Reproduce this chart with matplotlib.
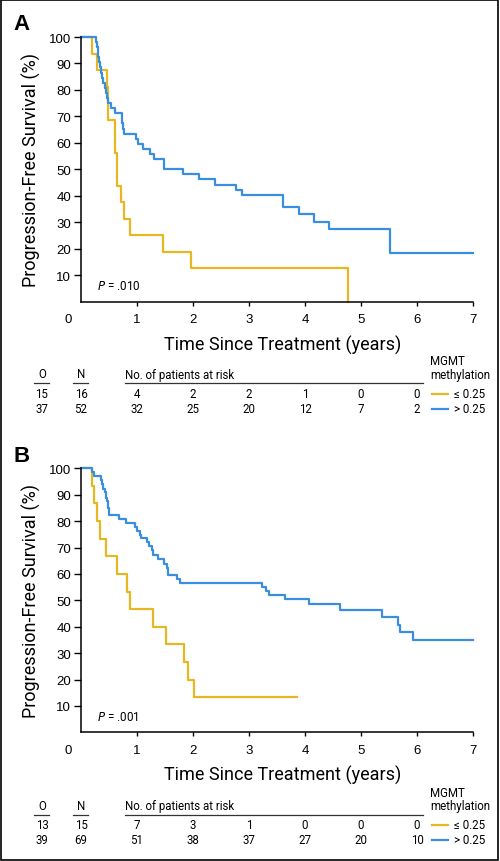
import numpy as np
import matplotlib
matplotlib.use("Agg")
import matplotlib.pyplot as plt
from matplotlib.patches import Rectangle
from matplotlib.lines import Line2D
from matplotlib.transforms import blended_transform_factory

# Panel A data (years, % progression-free)
a_low_t = [0, 0.20, 0.28, 0.46, 0.48, 0.60, 0.64, 0.71, 0.76, 0.87, 1.47, 1.96, 4.77]
a_low_s = [100, 93.75, 87.5, 81.25, 68.75, 56.25, 43.75, 37.5, 31.25, 25.0, 18.75, 12.5, 0]
a_high_t = [0, 0.27, 0.285, 0.30, 0.31, 0.32, 0.34, 0.36, 0.38, 0.40, 0.42, 0.44, 0.46, 0.48,
            0.54, 0.60, 0.73, 0.74, 0.755, 0.77, 0.99, 1.01, 1.10, 1.23, 1.31, 1.48, 1.83,
            2.10, 2.40, 2.76, 2.88, 3.61, 3.89, 4.16, 4.43, 5.52, 7.0]
a_high_s = [100, 98.1, 96.2, 94.2, 92.3, 90.4, 88.5, 86.5, 84.6, 82.7, 80.8, 78.8, 76.9, 75.0,
            73.1, 71.2, 69.2, 67.3, 65.4, 63.5, 61.5, 59.6, 57.7, 55.8, 53.8, 50.0, 48.1,
            46.2, 44.2, 42.3, 40.4, 35.6, 32.9, 30.2, 27.5, 18.3, 18.3]

# Panel B data
b_low_t = [0, 0.19, 0.24, 0.29, 0.34, 0.45, 0.65, 0.82, 0.875, 1.29, 1.51, 1.84, 1.91, 2.02, 3.85]
b_low_s = [100, 93.3, 86.7, 80.0, 73.3, 66.7, 60.0, 53.3, 46.7, 40.0, 33.3, 26.7, 20.0, 13.3, 13.3]
b_high_t = [0, 0.20, 0.24, 0.36, 0.38, 0.40, 0.42, 0.44, 0.46, 0.48, 0.50, 0.68, 0.80, 0.97,
            1.00, 1.05, 1.08, 1.17, 1.22, 1.26, 1.29, 1.38, 1.48, 1.53, 1.56, 1.71, 1.76,
            3.23, 3.30, 3.35, 3.65, 4.08, 4.63, 5.37, 5.66, 5.69, 5.93, 7.0]
b_high_s = [100, 98.6, 97.2, 95.7, 94.1, 92.2, 90.9, 88.7, 87.8, 84.9, 82.3, 80.8, 79.2, 77.8,
            76.4, 74.9, 73.5, 72.0, 70.7, 69.0, 67.3, 65.6, 63.8, 62.2, 59.5, 58.0, 56.6,
            55.2, 53.7, 52.0, 50.4, 48.6, 46.4, 43.8, 40.7, 38.1, 35.0, 35.0]

risk_years = [1, 2, 3, 4, 5, 6]
a_risk_low = [4, 2, 2, 1, 0, 0]
a_risk_high = [32, 25, 20, 12, 7, 2]
b_risk_low = [7, 3, 1, 0, 0, 0]
b_risk_high = [51, 38, 37, 27, 20, 10]
a_counts = [("15", "16"), ("37", "52")]
b_counts = [("13", "15"), ("39", "69")]
a_p = ".010"
b_p = ".001"

yticks = [10, 20, 30, 40, 50, 60, 70, 80, 90, 100]
xticks = [1, 2, 3, 4, 5, 6, 7]
legend_labels = ["\u2264 0.25", "> 0.25"]

YELLOW = "#E6B720"
BLUE = "#3A8EDF"
NARROW = ["Roboto", "DejaVu Sans"]
REG = ["Liberation Sans", "DejaVu Sans"]

W, H = 500, 862
fig = plt.figure(figsize=(W / 100, H / 100), dpi=100)


def fy(y):
    return 1 - y / H


def panel(top, bottom, letter, low_t, low_s, high_t, high_s, pval,
          counts, risk_low, risk_high, xlab_y, head_y, row1_y, row2_y):
    ax = fig.add_axes([81 / W, fy(bottom), (473 - 81) / W, (bottom - top) / H])
    ax.step(low_t, low_s, where="post", color=YELLOW, lw=1.6, clip_on=False)
    ax.step(high_t, high_s, where="post", color=BLUE, lw=1.6, clip_on=False)
    ax.set_xlim(0, 7)
    ax.set_ylim(0, 100)
    for s in ["top", "right"]:
        ax.spines[s].set_visible(False)
    for s in ["left", "bottom"]:
        ax.spines[s].set_linewidth(1.1)
    ax.set_yticks(yticks)
    ax.set_xticks(xticks)
    ax.tick_params(axis="y", length=5, width=1, pad=2, labelsize=9.5)
    ax.tick_params(axis="x", length=3, width=1, pad=5, labelsize=9.5)
    for lab in ax.get_xticklabels() + ax.get_yticklabels():
        lab.set_family(REG)
    ax.text(-0.23, -4.5, "0", ha="center", va="top", fontsize=9.5, family=REG,
            transform=ax.transData, clip_on=False)
    ax.set_ylabel("Progression-Free Survival (%)", family=NARROW, fontsize=13, labelpad=6)
    ax.text(0.29, 6, "$P$ = " + pval, fontsize=8.5, family=NARROW, va="center")
    fig.text(22 / W, fy(top - 13), letter, fontsize=16, fontweight="bold",
             family=REG, ha="center", va="center")
    fig.text(283 / W, fy(xlab_y), "Time Since Treatment (years)", family=NARROW,
             fontsize=13, ha="center", va="center")

    # risk table
    tf = blended_transform_factory(ax.transData, fig.transFigure)
    fs = 8.3
    fig.text(42 / W, fy(head_y), "O", family=NARROW, fontsize=fs, ha="center", va="center")
    fig.text(81 / W, fy(head_y), "N", family=NARROW, fontsize=fs, ha="center", va="center")
    fig.text(125 / W, fy(head_y), "No. of patients at risk", family=NARROW,
             fontsize=fs, ha="left", va="center")
    fig.text(430 / W, fy(head_y - 13), "MGMT", family=NARROW, fontsize=fs,
             ha="left", va="center")
    fig.text(430 / W, fy(head_y), "methylation", family=NARROW, fontsize=fs,
             ha="left", va="center")
    uy = fy(head_y + 9)
    for x0, x1 in [(34, 49), (73, 88), (125, 423)]:
        fig.add_artist(Line2D([x0 / W, x1 / W], [uy, uy], color="#333333", lw=0.9))
    for (o, n), ry in zip(counts, [row1_y, row2_y]):
        fig.text(42 / W, fy(ry), o, family=NARROW, fontsize=fs, ha="center", va="center")
        fig.text(81 / W, fy(ry), n, family=NARROW, fontsize=fs, ha="center", va="center")
    for vals, ry in [(risk_low, row1_y), (risk_high, row2_y)]:
        for xv, v in zip(risk_years, vals):
            ax.text(xv, fy(ry), str(v), transform=tf, family=NARROW, fontsize=fs,
                    ha="center", va="center")
    for col, lab, ry in zip([YELLOW, BLUE], legend_labels, [row1_y, row2_y]):
        fig.add_artist(Line2D([432 / W, 448 / W], [fy(ry), fy(ry)], color=col, lw=1.6))
        fig.text(454 / W, fy(ry), lab, family=NARROW, fontsize=fs, ha="left", va="center")
    return ax


panel(38, 302.5, "A", a_low_t, a_low_s, a_high_t, a_high_s, a_p,
      a_counts, a_risk_low, a_risk_high, 345, 375, 395, 410)
panel(469.3, 733.4, "B", b_low_t, b_low_s, b_high_t, b_high_s, b_p,
      b_counts, b_risk_low, b_risk_high, 775, 807, 826, 841)

fig.add_artist(Rectangle((0.001, 0.001), 0.994, 0.998, transform=fig.transFigure,
                         fill=False, edgecolor="black", lw=1.2))

fig.savefig("out.png", dpi=100)
